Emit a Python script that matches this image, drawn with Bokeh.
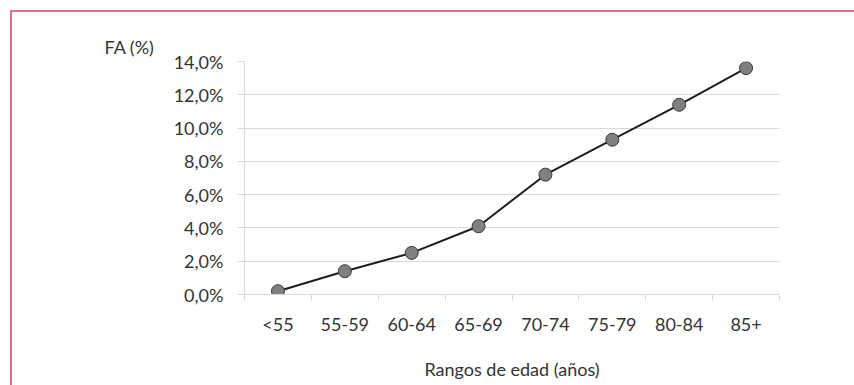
from bokeh.plotting import figure
from bokeh.models import (ColumnDataSource, Range1d, LinearAxis, FixedTicker)
from bokeh.embed import file_html
from bokeh.resources import INLINE

categories = ["<55", "55-59", "60-64", "65-69", "70-74", "75-79", "80-84", "85+"]
fa_values = [0.2, 1.4, 2.5, 4.1, 7.2, 9.3, 11.4, 13.6]
y_ticks = [0, 2, 4, 6, 8, 10, 12, 14]
y_tick_labels = ["0,0%", "2,0%", "4,0%", "6,0%", "8,0%", "10,0%", "12,0%", "14,0%"]
y_title = "FA (%)"
x_title = "Rangos de edad (años)"

FONT = "Lato"
TXT = "#333333"
GRID = "#d9d9d9"

n = len(categories)
cat_pos = list(range(1, n + 1))
source = ColumnDataSource(dict(x=cat_pos, cat=categories, fa=fa_values))

p = figure(width=844, height=375, output_backend="svg", toolbar_location=None,
           x_range=Range1d(0.5, n + 0.5), y_range=Range1d(0, 14),
           x_axis_location=None, y_axis_location="left",
           min_border_left=232, min_border_right=77, min_border_top=49,
           min_border_bottom=93, title=y_title)
p.margin = (10, 0, 0, 10)
p.styles = {"border-top": "2px solid #d4738a", "border-left": "2px solid #d4738a"}
p.background_fill_color = "white"
p.border_fill_color = "white"
p.outline_line_color = None

p.title.text_font = FONT
p.title.text_font_size = "18px"
p.title.text_font_style = "normal"
p.title.text_color = TXT
p.title.align = "left"
p.title.offset = -140
p.title.standoff = 8

xax = LinearAxis(ticker=FixedTicker(ticks=cat_pos,
                                    minor_ticks=[i + 0.5 for i in range(n + 1)]),
                 major_label_overrides={x: c for x, c in zip(cat_pos, categories)},
                 axis_line_color=GRID, major_tick_line_color=None,
                 minor_tick_line_color=GRID,
                 major_tick_out=0, major_tick_in=0,
                 minor_tick_out=6, minor_tick_in=0,
                 major_label_standoff=12,
                 major_label_text_font=FONT,
                 major_label_text_font_size="18px",
                 major_label_text_color=TXT,
                 axis_label=x_title,
                 axis_label_text_font=FONT,
                 axis_label_text_font_size="18px",
                 axis_label_text_font_style="normal",
                 axis_label_text_color=TXT,
                 axis_label_standoff=20)
p.add_layout(xax, "below")

yax = p.yaxis[0]
yax.ticker = FixedTicker(ticks=y_ticks)
yax.major_label_overrides = {t: l for t, l in zip(y_ticks, y_tick_labels)}
yax.major_label_text_font = FONT
yax.major_label_text_font_size = "18px"
yax.major_label_text_color = TXT
yax.major_tick_out = 7
yax.major_tick_in = 0
yax.major_label_standoff = 14
yax.minor_tick_line_color = None
yax.axis_line_color = GRID
yax.major_tick_line_color = GRID

p.ygrid.ticker = FixedTicker(ticks=y_ticks)
p.ygrid.grid_line_color = GRID
p.xgrid.visible = False

p.line(x="x", y="fa", source=source, line_color="#1e1e1e", line_width=2)
p.scatter(x="x", y="fa", source=source, size=13, fill_color="#808080",
          line_color="#3a3a3a", line_width=1)

open("out.html", "w").write(file_html(p, INLINE))
